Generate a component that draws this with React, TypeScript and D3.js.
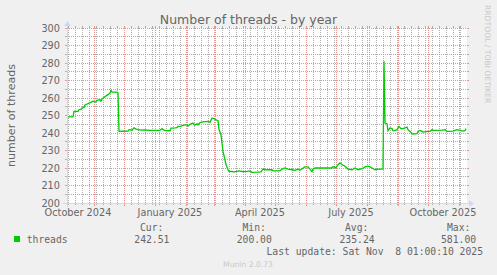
import React, { useEffect } from 'react';
import * as d3 from 'd3';

const title = 'Number of threads - by year';
const yAxisLabel = 'number of threads';
const seriesName = 'threads';
const startTime = Date.UTC(2024, 9, 4, 1, 0, 10);
const endTime = Date.UTC(2025, 10, 8, 1, 0, 10);

// day offsets from start of graph window
const dayOffsets = [
  0, 6, 7, 11, 12, 14, 15, 17, 18, 19, 21, 23, 25, 26, 28, 30, 32, 33, 34, 35, 37, 39, 41, 43, 44, 45, 50, 51,
  52, 56, 61, 62, 65, 67, 69, 71, 74, 78, 83, 88, 93, 95, 97, 99, 102, 103,
  104, 108, 110, 111, 114, 116, 118, 120, 121, 123, 126, 128, 130, 131, 133, 136, 141, 143, 145, 147, 150, 151,
  152, 154, 155, 156, 158, 159, 161, 162, 165, 167, 170, 172, 175, 176, 180, 183, 185, 190, 194, 196, 199, 201,
  205, 206, 213, 215, 218, 221, 225, 228, 231, 233, 235, 238, 241, 243, 245, 246, 248, 265, 266, 269, 271, 273,
  275, 278, 281, 285, 288, 291, 295, 298, 301, 303, 305, 308, 311, 316,
  317, 318, 320, 321, 323, 325, 326, 328, 330, 332, 334, 336, 338, 340, 341, 343, 345, 346, 350, 351, 353, 355,
  356, 360, 363, 365, 366, 370, 375, 378, 380, 383, 386, 388, 390, 393, 396, 398, 399,
];
const threads = [
  249.2, 249.2, 252.3, 252.4, 253.3, 253.5, 254.4, 254.5, 256.0, 256.3, 256.8, 257.4, 257.8, 258.3, 257.6, 258.6,
  258.9, 259.0, 258.2, 259.4, 260.3, 261.2, 261.9, 262.8, 264.3, 263.4, 263.3, 262.9,
  240.9, 241.0, 241.1, 241.9, 241.6, 242.9, 242.2, 241.9, 241.6, 241.7, 241.5, 241.5, 241.5, 242.5, 241.6, 241.4,
  241.3, 241.3,
  242.8, 242.9, 243.0, 243.8, 243.9, 244.3, 244.7, 244.7, 244.0, 245.0, 245.7, 244.5, 245.3, 244.6, 245.9, 246.3,
  246.6, 246.1, 248.6, 248.2, 247.3, 247.0,
  242.0, 239.0, 234.3, 229.5, 224.7, 222.0, 219.0, 218.1, 218.0, 217.8, 218.1, 218.3, 218.0, 217.9, 218.1, 218.3,
  217.5, 217.6, 217.8, 219.4, 218.9, 219.1,
  219.0, 218.4, 218.4, 219.4, 220.0, 219.4, 219.0, 218.7, 219.4, 218.7, 219.6, 220.6, 220.6, 219.4, 217.9, 219.4,
  220.0, 220.0, 220.8, 220.2, 221.9, 222.9,
  221.9, 221.0, 219.4, 219.0, 220.0, 219.0, 219.6, 220.6, 221.0, 220.6, 220.0, 219.0, 219.4, 219.4,
  281.0, 245.7, 245.3, 241.3, 242.9, 242.5, 241.3, 241.5, 241.9, 243.8, 242.5, 242.5, 242.9, 243.4, 241.9, 240.9,
  239.6, 239.4, 239.6, 240.9, 241.5, 240.9,
  240.5, 240.9, 240.9, 241.9, 241.5, 241.5, 241.7, 241.9, 240.9, 240.9, 241.1, 241.5, 241.9, 241.5, 241.1, 241.3,
  242.5,
];

const yTicks = [200, 210, 220, 230, 240, 250, 260, 270, 280, 290, 300];
const yMinorTicks = [205, 215, 225, 235, 245, 255, 265, 275, 285, 295];
const xTickLabels = ['October 2024', 'January 2025', 'April 2025', 'July 2025', 'October 2025'];
const xTickLabelDates = ['2024-10-15', '2025-01-15', '2025-04-15', '2025-07-15', '2025-10-15'];
const legendHeaders = ['Cur:', 'Min:', 'Avg:', 'Max:'];
const legendValues = ['242.51', '200.00', '235.24', '581.00'];
const lastUpdate = 'Last update: Sat Nov  8 01:00:10 2025';
const footer = 'Munin 2.0.73';
const sideText = 'RRDTOOL / TOBI OETIKER';

const W = 497;
const H = 275;
const X0 = 67;
const X1 = 467;
const Y0 = 203;
const Y1 = 28;

const SANS = 'DejaVu Sans, sans-serif';
const MONO = 'DejaVu Sans Mono, monospace';
const FONT_COL = '#666666';
const AXIS_COL = '#CFD6F8';
const GRID_COL = '#ADADAD';
const MGRID_COL = '#E69494';
const LINE_COL = '#00CC00';

const legendHeaderX = [140, 242.5, 345, 447];
const legendValueX = [134.3, 236.7, 339.5, 441];

export default function App() {
  useEffect(() => {
    document.body.style.margin = '0';
  }, []);

  const x = d3.scaleUtc().domain([startTime, endTime]).range([X0, X1]);
  const y = d3.scaleLinear().domain([200, 300]).range([Y0, Y1]);

  const points = dayOffsets.map((d, i) => ({ t: new Date(startTime + d * 86400000), v: threads[i] }));
  const line = d3
    .line<{ t: Date; v: number }>()
    .x((d) => x(d.t))
    .y((d) => y(d.v));

  const px = (v: number) => Math.floor(v) + 0.5;
  const months: Date[] = d3.utcMonth.range(new Date(startTime), new Date(endTime));
  const firstWeek = d3.utcSunday.ceil(new Date(startTime));
  const weeks: Date[] = [];
  for (let i = 0; i < 70; i++) {
    const w = d3.utcDay.offset(firstWeek, 7 * i);
    if (w.getTime() < endTime) weeks.push(w);
  }
  const weekX = weeks.map((w) => px(x(w)));
  const monthX = months.map((m) => px(x(m)));

  return (
    <svg width={W} height={H} style={{ position: 'absolute', left: 0, top: 0, display: 'block' }}>
      <rect x={0} y={0} width={W} height={H} fill="#F0F0F0" />
      <rect x={X0} y={Y1} width={X1 - X0} height={Y0 - Y1} fill="#FFFFFF" />

      {/* minor vertical grid (weekly) */}
      {weekX.map((wx, i) => (
        <g key={'vm' + i}>
          <line x1={wx} x2={wx} y1={Y1 - 2} y2={Y1} stroke={GRID_COL} />
          <line x1={wx} x2={wx} y1={Y0} y2={Y0 + 2} stroke={GRID_COL} />
          <line x1={wx} x2={wx} y1={Y0} y2={Y1} stroke={GRID_COL} strokeDasharray="1 1" />
        </g>
      ))}
      {/* minor horizontal grid */}
      {yMinorTicks.map((v) => (
        <g key={'hm' + v}>
          <line x1={X0 - 2} x2={X0} y1={px(y(v))} y2={px(y(v))} stroke={GRID_COL} />
          <line x1={X1} x2={X1 + 2} y1={px(y(v))} y2={px(y(v))} stroke={GRID_COL} />
          <line x1={X0} x2={X1} y1={px(y(v))} y2={px(y(v))} stroke={GRID_COL} strokeDasharray="1 1" />
        </g>
      ))}
      {/* major vertical grid (monthly) */}
      {monthX.map((mx, i) => (
        <g key={'vM' + i}>
          <line x1={mx} x2={mx} y1={Y1 - 2} y2={Y1} stroke={MGRID_COL} />
          <line x1={mx} x2={mx} y1={Y0} y2={Y0 + 3} stroke={MGRID_COL} />
          <line x1={mx} x2={mx} y1={Y0} y2={Y1} stroke={MGRID_COL} strokeDasharray="1 1" />
        </g>
      ))}
      {/* major horizontal grid */}
      {yTicks.map((v) => (
        <g key={'hM' + v}>
          <line x1={X0 - 2} x2={X0} y1={px(y(v))} y2={px(y(v))} stroke={MGRID_COL} />
          <line x1={X1} x2={X1 + 2} y1={px(y(v))} y2={px(y(v))} stroke={MGRID_COL} />
          <line x1={X0} x2={X1} y1={px(y(v))} y2={px(y(v))} stroke={MGRID_COL} strokeDasharray="1 1" />
        </g>
      ))}

      {/* y tick labels */}
      {yTicks.map((v) => (
        <text
          key={'yl' + v}
          x={60}
          y={y(v) + 3.6}
          textAnchor="end"
          fontFamily={SANS}
          fontSize={9.72}
          fill={FONT_COL}
        >
          {v}
        </text>
      ))}
      {/* x tick labels */}
      {xTickLabels.map((lab, i) => (
        <text
          key={'xl' + lab}
          x={x(new Date(xTickLabelDates[i] + 'T00:00:00Z'))}
          y={215.5}
          textAnchor="middle"
          fontFamily={SANS}
          fontSize={9.72}
          fill={FONT_COL}
        >
          {lab}
        </text>
      ))}

      {/* data line */}
      <path d={line(points) || ''} fill="none" stroke={LINE_COL} strokeWidth={1.3} />

      {/* axes */}
      <line x1={X0 - 4} x2={X1 + 4} y1={Y0 + 0.5} y2={Y0 + 0.5} stroke={AXIS_COL} />
      <line x1={X0 + 0.5} x2={X0 + 0.5} y1={Y0 + 4} y2={Y1 - 4} stroke={AXIS_COL} />
      <path d={`M${X1 + 2},${Y0 - 3} L${X1 + 2},${Y0 + 4} L${X1 + 7},${Y0 + 0.5} Z`} fill={AXIS_COL} />
      <path d={`M${X0 - 3},${Y1 - 2} L${X0 + 4},${Y1 - 2} L${X0 + 0.5},${Y1 - 7} Z`} fill={AXIS_COL} />

      {/* title */}
      <text x={248.5} y={24} textAnchor="middle" fontFamily={SANS} fontSize={12.5} fill={FONT_COL}>
        {title}
      </text>
      {/* y axis label */}
      <text
        transform={`translate(15,${(Y0 + Y1) / 2}) rotate(-90)`}
        textAnchor="middle"
        fontFamily={SANS}
        fontSize={11.1}
        fill={FONT_COL}
      >
        {yAxisLabel}
      </text>
      {/* side watermark */}
      <text transform="translate(485,5) rotate(90)" textAnchor="start" fontFamily={SANS} fontSize={7.64} fill="#C8C8C8">
        {sideText}
      </text>

      {/* legend */}
      <rect x={14} y={236} width={6} height={6} fill={LINE_COL} />
      <text x={26.7} y={243} fontFamily={MONO} fontSize={9.72} fill={FONT_COL}>
        {seriesName}
      </text>
      {legendHeaders.map((h, i) => (
        <text key={'lh' + h} x={legendHeaderX[i]} y={231} fontFamily={MONO} fontSize={9.72} fill={FONT_COL}>
          {h}
        </text>
      ))}
      {legendValues.map((v, i) => (
        <text key={'lv' + i} x={legendValueX[i]} y={243} fontFamily={MONO} fontSize={9.72} fill={FONT_COL}>
          {v}
        </text>
      ))}
      <text
        x={483}
        y={255}
        textAnchor="end"
        fontFamily={MONO}
        fontSize={9.72}
        fill={FONT_COL}
        style={{ whiteSpace: 'pre' }}
      >
        {lastUpdate}
      </text>
      <text x={248} y={267} textAnchor="middle" fontFamily={SANS} fontSize={7.64} fill="#C8C8C8">
        {footer}
      </text>
    </svg>
  );
}
